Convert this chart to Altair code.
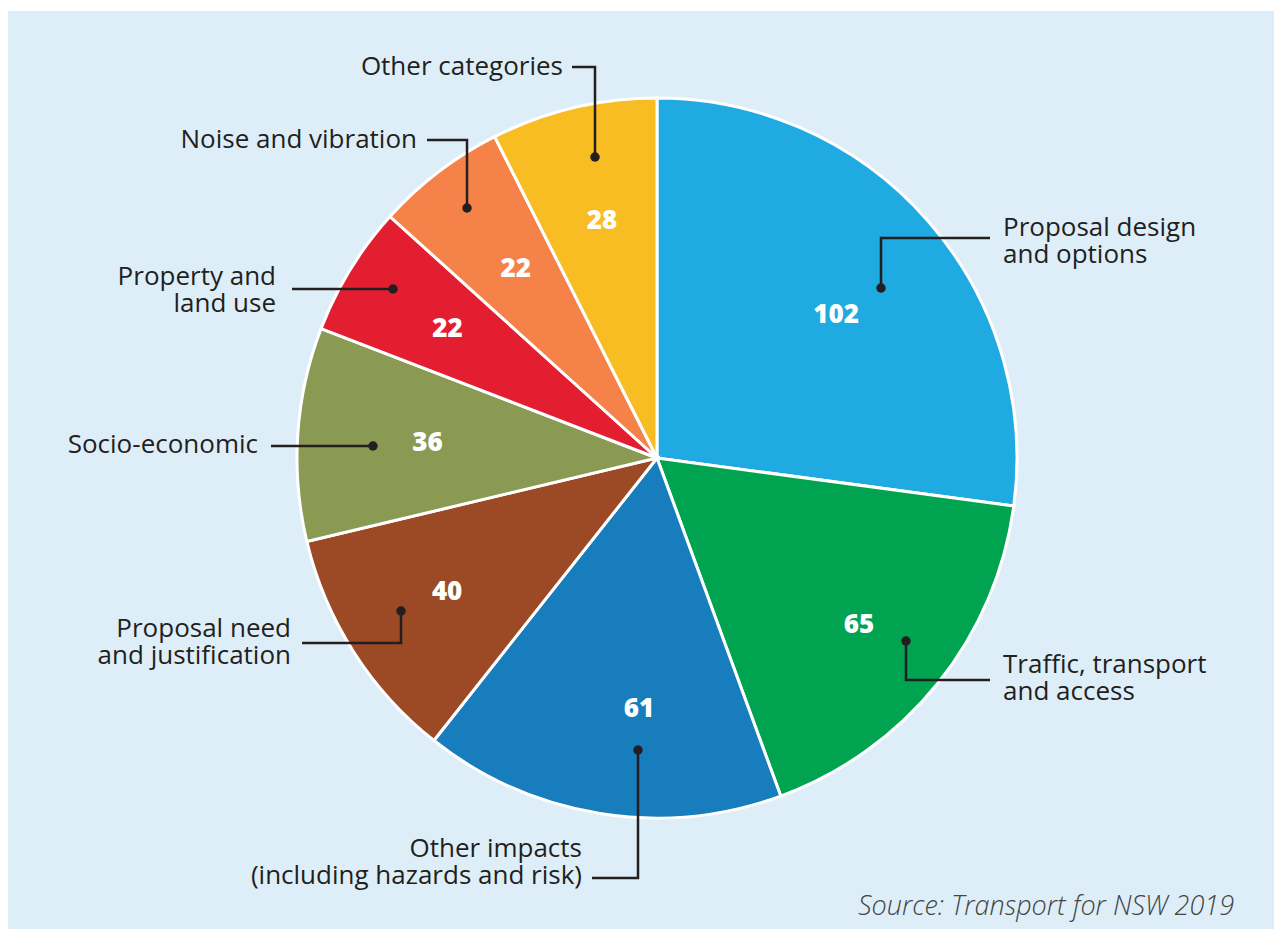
import altair as alt
import pandas as pd
import numpy as np

# ---------------- data ----------------
categories = [
    "Proposal design and options",
    "Traffic, transport and access",
    "Other impacts (including hazards and risk)",
    "Proposal need and justification",
    "Socio-economic",
    "Property and land use",
    "Noise and vibration",
    "Other categories",
]
values = [102, 65, 61, 40, 36, 22, 22, 28]
callout_text = [
    "Proposal design\nand options",
    "Traffic, transport\nand access",
    "Other impacts\n(including hazards and risk)",
    "Proposal need\nand justification",
    "Socio-economic",
    "Property and\nland use",
    "Noise and vibration",
    "Other categories",
]
colors = ["#20aae2", "#00a450", "#187dbd", "#9b4a25", "#8a9a52", "#e41e31", "#f58349", "#f8bd22"]
source_note = "Source: Transport for NSW 2019"

# ---------------- layout (image pixel coords, page offset 8) ----------------
OFF = 8
W, H = 1266, 921
CX, CY, R = 657 - OFF, 458 - OFF, 360
PANEL = "#deeef9"
INK = "#231f20"

label_radius = [229, 262, 252, 249, 230, 246, 236, 243]
label_nudge_deg = [2.6, 0.8, -5.0, 0.0, 0.0, 0.0, 0.6, 0.3]

leader_paths = [
    [(881, 288), (881, 238), (990, 238)],
    [(906, 641), (906, 680), (990, 680)],
    [(638, 750), (638, 878), (592, 878)],
    [(401, 611), (401, 643), (302, 643)],
    [(373, 446), (271, 446)],
    [(393, 289), (292, 289)],
    [(467, 208), (467, 140), (427, 140)],
    [(595, 157), (595, 67), (572, 67)],
]
text_anchor = [
    (1003, 236, "left"),
    (1003, 673, "left"),
    (582, 857, "right"),
    (291, 637, "right"),
    (258, 453, "right"),
    (276, 285, "right"),
    (417, 148, "right"),
    (563, 75, "right"),
]

# ---------------- tables ----------------
total = float(sum(values))
vals = np.array(values, dtype=float)
start = np.cumsum(vals) - vals
mid_deg = (start + vals / 2) / total * 360.0

pie_df = pd.DataFrame({"category": categories, "value": values, "idx": range(len(values))})

lab_ang = np.radians(mid_deg + np.array(label_nudge_deg))
lab_r = np.array(label_radius, dtype=float)
vlab_df = pd.DataFrame({
    "txt": [str(v) for v in values],
    "x": CX + lab_r * np.sin(lab_ang),
    "y": CY - lab_r * np.cos(lab_ang),
})

rows = []
for i, path in enumerate(leader_paths):
    for j, (px, py) in enumerate(path):
        rows.append({"id": i, "seq": j, "x": px - OFF, "y": py - OFF})
lines_df = pd.DataFrame(rows)
dots_df = pd.DataFrame([{"x": p[0][0] - OFF, "y": p[0][1] - OFF} for p in leader_paths])

call_df = pd.DataFrame({
    "txt": callout_text,
    "x": [a[0] - OFF for a in text_anchor],
    "y": [a[1] - OFF for a in text_anchor],
    "align": [a[2] for a in text_anchor],
})
src_df = pd.DataFrame({"txt": [source_note], "x": [1234 - OFF], "y": [915 - OFF]})
panel_df = pd.DataFrame({"x": [0], "x2": [W], "y": [3], "y2": [H]})

xs = alt.Scale(domain=[0, W], nice=False, zero=False)
ys = alt.Scale(domain=[0, H], nice=False, zero=False, reverse=True)


def X(f="x"):
    return alt.X(f + ":Q", scale=xs, axis=None)


def Y(f="y"):
    return alt.Y(f + ":Q", scale=ys, axis=None)


panel = alt.Chart(panel_df).mark_rect(color=PANEL).encode(
    x=X(), x2="x2:Q", y=Y(), y2="y2:Q"
)

pie = alt.Chart(pie_df).mark_arc(outerRadius=R, stroke="white", strokeWidth=3).encode(
    theta=alt.Theta("value:Q", stack=True),
    order=alt.Order("idx:Q"),
    color=alt.Color("category:N", scale=alt.Scale(domain=categories, range=colors), legend=None),
    x=alt.value(CX),
    y=alt.value(CY),
)

vlabels = alt.Chart(vlab_df).mark_text(
    font="Open Sans", fontWeight=800, fontSize=26, color="white", baseline="middle", align="center"
).encode(x=X(), y=Y(), text="txt:N")

leaders = alt.Chart(lines_df).mark_line(color=INK, strokeWidth=2.5).encode(
    x=X(), y=Y(), detail="id:N", order="seq:Q"
)
dots = alt.Chart(dots_df).mark_circle(color=INK, opacity=1, size=90).encode(x=X(), y=Y())

left_txt = alt.Chart(call_df[call_df["align"] == "left"]).mark_text(
    font="Open Sans", fontSize=26, color=INK, align="left", baseline="alphabetic", lineBreak="\n", lineHeight=27
).encode(x=X(), y=Y(), text="txt:N")
right_txt = alt.Chart(call_df[call_df["align"] == "right"]).mark_text(
    font="Open Sans", fontSize=26, color=INK, align="right", baseline="alphabetic", lineBreak="\n", lineHeight=27
).encode(x=X(), y=Y(), text="txt:N")

source = alt.Chart(src_df).mark_text(
    font="Open Sans", fontSize=27, fontStyle="italic", fontWeight=300, color="#444444",
    align="right", baseline="alphabetic"
).encode(x=X(), y=Y(), text="txt:N")

chart = alt.layer(panel, pie, vlabels, leaders, dots, left_txt, right_txt, source).properties(
    width=W, height=H, autosize=alt.AutoSizeParams(type="none"), padding=0, background="white"
).configure_view(stroke=None)

chart.save("out.html", embed_options={"renderer": "svg", "actions": False})
